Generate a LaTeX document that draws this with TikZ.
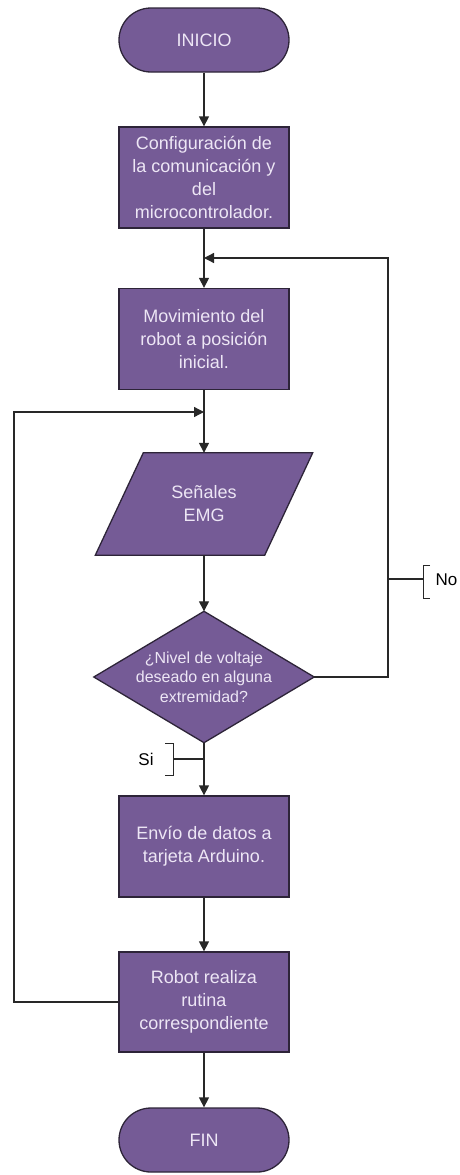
\documentclass[tikz,border=0pt]{standalone}
\usepackage{fontspec}
\setmainfont{Liberation Sans}
\usetikzlibrary{arrows.meta}
\definecolor{boxfill}{RGB}{117,91,150}
\definecolor{boxline}{RGB}{45,36,56}
\definecolor{boxtext}{RGB}{237,230,245}
\definecolor{linec}{RGB}{40,40,40}
\begin{document}
\begin{tikzpicture}[x=1pt,y=-1pt,
  proc/.style={draw=boxline, line width=1.3pt, fill=boxfill, text=boxtext,
    minimum width=170pt, minimum height=101pt, inner sep=0pt, align=center,
    font=\fontsize{18}{23}\selectfont},
  term/.style={proc, minimum height=64pt, rounded corners=32pt},
  ghost/.style={minimum width=170pt, minimum height=101pt, inner sep=0pt, align=center, text=boxtext},
  conn/.style={draw=linec, line width=1.3pt},
  arr/.style={conn, -{Triangle[length=10pt,width=10pt]}},
  lab/.style={text=black, font=\fontsize{17}{20}\selectfont}
]
\useasboundingbox (0,0) rectangle (460,1175);

\node[term] (inicio) at (204,40) {INICIO};
\node[proc] (conf) at (204,177.5) {Configuración de\\la comunicación y\\del\\microcontrolador.};
\node[proc] (mov) at (204,339) {Movimiento del\\robot a posición\\inicial.};

\node[ghost, minimum width=217pt, minimum height=102pt] (emg) at (204,504) {};
\fill[boxfill, draw=boxline, line width=1.3pt]
  ([xshift=48pt]emg.north west) -- (emg.north east) -- ([xshift=-48pt]emg.south east) -- (emg.south west) -- cycle;
\node[text=boxtext, align=center, font=\fontsize{18}{23}\selectfont] (emgt) at (emg.center) {Señales\\EMG};

\node[ghost, minimum width=220pt, minimum height=131pt] (dec) at (204,677) {};
\fill[boxfill, draw=boxline, line width=1.3pt, line join=miter]
  (dec.north) -- (dec.east) -- (dec.south) -- (dec.west) -- cycle;
\node[text=boxtext, align=center, font=\fontsize{16}{19.5}\selectfont] (dect) at (dec.center) {¿Nivel de voltaje\\deseado en alguna\\extremidad?};

\node[proc] (env) at (204,846.5) {Envío de datos a\\tarjeta Arduino.};
\node[proc, minimum height=100pt] (rob) at (204,1002) {Robot realiza\\rutina\\correspondiente};
\node[term] (fin) at (204,1140) {FIN};

% main flow
\draw[arr] (inicio.south) -- (conf.north);
\draw[arr] (conf.south) -- (mov.north);
\draw[arr] (mov.south) -- (emg.north);
\draw[arr] (emg.south) -- (dec.north);
\draw[arr] (dec.south) -- (env.north);
\draw[arr] (env.south) -- (rob.north);
\draw[arr] (rob.south) -- (fin.north);

% No loop
\coordinate (nr) at (388,258);
\coordinate (nj) at (204,258);
\draw[arr] (dec.east) -| (nr) -- (nj);

% left loop
\coordinate (ll) at (14,412);
\coordinate (lj) at (204,412);
\draw[arr] (rob.west) -| (ll) -- (lj);

% No label
\coordinate (nol) at (388,579);
\coordinate (nob) at (423,579);
\draw[conn] (nol) -- (nob);
\draw[conn, line width=1pt] (430,565) -- (423,565) -- (423,598) -- (430,598);
\node[lab, anchor=west] (no) at (432,580) {No};

% Si label
\coordinate (sil) at (204,759);
\coordinate (sib) at (173,759);
\draw[conn] (sil) -- (sib);
\draw[conn, line width=1pt] (165,743) -- (173,743) -- (173,775) -- (165,775);
\node[lab] (si) at (146,759) {Si};
\end{tikzpicture}
\end{document}
